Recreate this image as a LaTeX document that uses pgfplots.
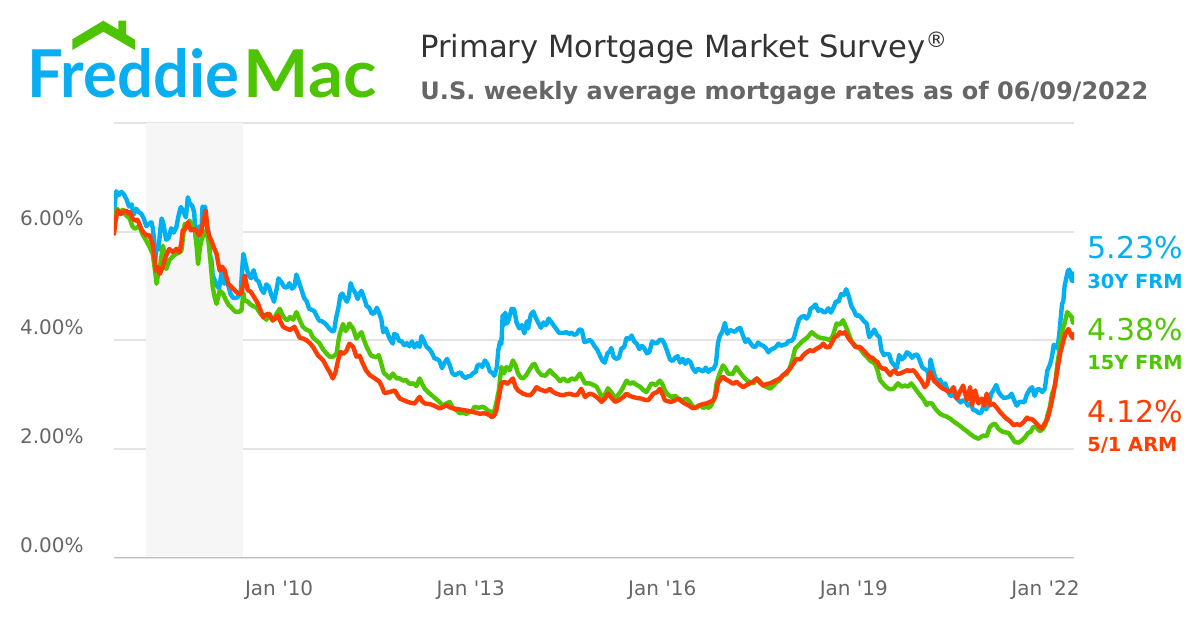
\documentclass[border=0pt]{standalone}
\usepackage{fontspec}
\usepackage{graphicx}
\setmainfont{DejaVu Sans}[Ligatures=TeXOff]
\newfontfamily\logofont{Lato}
\usepackage{pgfplots}
\pgfplotsset{compat=1.18}
\definecolor{fmblue}{RGB}{0,176,240}
\definecolor{fmgreen}{RGB}{78,198,0}
\definecolor{fmred}{RGB}{255,61,0}
\definecolor{logoblue}{RGB}{8,174,239}
\definecolor{logogreen}{RGB}{76,196,0}
\definecolor{gridgray}{RGB}{228,228,228}
\definecolor{axisgray}{RGB}{192,192,192}
\definecolor{axisblue}{RGB}{204,214,235}
\definecolor{bandgray}{RGB}{246,246,246}
\definecolor{txtgray}{RGB}{102,102,102}
\definecolor{titlegray}{RGB}{51,51,51}
\begin{document}
\begin{tikzpicture}
\path[use as bounding box] (0,0) rectangle (600pt,-315pt);
% x = years since 2000
\begin{axis}[
  at={(57pt,-279pt)}, anchor=south west,
  scale only axis, width=480pt, height=217.65pt,
  xmin=7.414, xmax=22.447, ymin=0, ymax=8,
  axis line style={draw=none},
  ytick={0,2,4,6,8}, yticklabels={0.00\%,2.00\%,4.00\%,6.00\%,{}},
  ymajorgrids, grid style={gridgray, line width=1pt},
  ytick style={draw=none}, xtick style={draw=none},
  xtick={10,13,16,19,22},
  xticklabels={Jan '10,Jan '13,Jan '16,Jan '19,Jan '22},
  tick label style={font=\fontsize{10}{12}\selectfont, text=txtgray},
  yticklabel style={anchor=east, inner sep=0pt, xshift=-15pt, yshift=6.45pt},
  xticklabel style={anchor=north, inner sep=0pt, yshift=-11pt},
  every axis plot/.append style={line width=2.2pt, line join=round, line cap=round, no markers},
]
\fill[bandgray] (axis cs:7.92,0) rectangle (axis cs:9.44,8);
\draw[axisgray, line width=1pt] (axis cs:7.414,0) -- (axis cs:22.447,0);
\draw[axisblue, line width=1pt] ([yshift=-1.3pt]axis cs:7.414,0) -- ([yshift=-1.3pt]axis cs:22.447,0);
\draw[axisblue, line width=0.5pt] ([yshift=-1.3pt]axis cs:10,0) -- ([yshift=-9.8pt]axis cs:10,0);
\draw[axisblue, line width=0.5pt] ([yshift=-1.3pt]axis cs:13,0) -- ([yshift=-9.8pt]axis cs:13,0);
\draw[axisblue, line width=0.5pt] ([yshift=-1.3pt]axis cs:16,0) -- ([yshift=-9.8pt]axis cs:16,0);
\draw[axisblue, line width=0.5pt] ([yshift=-1.3pt]axis cs:19,0) -- ([yshift=-9.8pt]axis cs:19,0);
\draw[axisblue, line width=0.5pt] ([yshift=-1.3pt]axis cs:22,0) -- ([yshift=-9.8pt]axis cs:22,0);
% 30Y FRM
\addplot[fmblue] coordinates {
(07.414,6.37)(07.45,6.74)(07.49,6.67)(07.53,6.73)(07.57,6.68)(07.61,6.59)(07.65,6.46)(07.69,6.50)(07.72,6.31)(07.76,6.42)(07.80,6.36)(07.84,6.33)(07.88,6.24)(07.92,6.10)(07.96,6.14)(08.00,6.17)
(08.02,6.07)(08.04,5.87)(08.06,5.48)(08.08,5.68)(08.11,5.67)(08.14,6.04)(08.16,6.24)(08.19,6.13)(08.23,5.85)(08.27,5.88)(08.31,6.06)(08.35,5.98)(08.39,6.08)(08.43,6.32)(08.46,6.45)(08.50,6.37)(08.54,6.26)(08.57,6.63)(08.60,6.52)(08.64,6.47)(08.67,6.35)(08.69,5.93)(08.71,5.78)(08.74,6.09)(08.78,5.94)(08.80,6.46)(08.82,6.36)(08.84,6.46)(08.86,6.14)(08.90,5.97)(08.92,5.53)(08.94,5.47)(08.96,5.19)(08.98,5.14)
(09.02,5.01)(09.06,4.96)(09.10,5.25)(09.14,5.04)(09.17,5.15)(09.21,4.98)(09.24,4.85)(09.28,4.78)(09.32,4.78)(09.36,4.80)(09.40,4.91)(09.42,5.29)(09.44,5.59)(09.48,5.38)(09.52,5.20)(09.56,5.14)(09.60,5.29)(09.64,5.12)(09.68,5.08)(09.72,4.94)(09.76,4.87)(09.80,5.03)(09.84,4.98)(09.88,4.83)(09.92,4.71)(09.96,4.94)(09.99,5.14)
(10.04,5.06)(10.08,4.98)(10.12,4.97)(10.16,5.05)(10.20,4.95)(10.24,4.99)(10.27,5.21)(10.31,5.07)(10.35,4.93)(10.39,4.78)(10.43,4.72)(10.47,4.58)(10.51,4.56)(10.55,4.54)(10.59,4.44)(10.63,4.36)(10.67,4.35)(10.71,4.32)(10.75,4.27)(10.79,4.21)(10.83,4.17)(10.86,4.17)(10.89,4.40)(10.93,4.61)(10.96,4.83)(10.99,4.86)
(11.03,4.77)(11.06,4.71)(11.09,4.80)(11.12,5.05)(11.15,4.95)(11.19,4.88)(11.23,4.76)(11.26,4.86)(11.29,4.91)(11.33,4.78)(11.37,4.63)(11.41,4.60)(11.45,4.49)(11.49,4.50)(11.53,4.60)(11.56,4.52)(11.60,4.39)(11.63,4.15)(11.67,4.22)(11.71,4.09)(11.74,4.01)(11.78,3.94)(11.80,4.12)(11.84,4.10)(11.88,3.99)(11.92,3.98)(11.96,3.91)
(12.00,3.95)(12.04,3.89)(12.08,3.98)(12.12,3.87)(12.16,3.95)(12.20,3.88)(12.23,4.08)(12.27,3.98)(12.31,3.88)(12.35,3.84)(12.39,3.78)(12.43,3.67)(12.47,3.66)(12.51,3.62)(12.55,3.49)(12.59,3.59)(12.63,3.66)(12.67,3.55)(12.71,3.40)(12.75,3.36)(12.80,3.39)(12.84,3.41)(12.88,3.34)(12.92,3.31)(12.96,3.34)
(13.00,3.35)(13.04,3.40)(13.08,3.42)(13.10,3.53)(13.14,3.56)(13.18,3.51)(13.22,3.63)(13.26,3.57)(13.30,3.43)(13.34,3.40)(13.37,3.35)(13.41,3.51)(13.43,3.81)(13.46,3.98)(13.48,3.93)(13.50,4.46)(13.53,4.29)(13.54,4.51)(13.57,4.31)(13.60,4.40)(13.64,4.58)(13.68,4.57)(13.72,4.32)(13.76,4.22)(13.80,4.28)(13.84,4.13)(13.88,4.35)(13.90,4.22)(13.94,4.47)(13.98,4.53)
(14.02,4.41)(14.06,4.32)(14.10,4.23)(14.14,4.33)(14.18,4.28)(14.22,4.40)(14.26,4.34)(14.30,4.27)(14.34,4.21)(14.38,4.14)(14.42,4.14)(14.46,4.14)(14.50,4.15)(14.54,4.12)(14.58,4.14)(14.62,4.10)(14.66,4.12)(14.70,4.20)(14.74,4.19)(14.78,3.97)(14.82,3.98)(14.86,4.01)(14.90,3.97)(14.94,3.89)(14.98,3.83)
(15.02,3.73)(15.06,3.63)(15.10,3.59)(15.14,3.76)(15.18,3.80)(15.20,3.86)(15.24,3.69)(15.28,3.66)(15.32,3.68)(15.36,3.85)(15.40,3.87)(15.44,4.04)(15.48,4.02)(15.52,4.09)(15.56,3.98)(15.60,3.94)(15.64,3.84)(15.68,3.90)(15.72,3.85)(15.76,3.76)(15.80,3.79)(15.84,3.98)(15.88,3.95)(15.92,3.95)(15.96,4.01)
(16.00,4.01)(16.04,3.92)(16.08,3.79)(16.12,3.65)(16.16,3.62)(16.20,3.68)(16.24,3.71)(16.28,3.59)(16.32,3.66)(16.36,3.57)(16.40,3.64)(16.44,3.60)(16.48,3.48)(16.52,3.42)(16.56,3.48)(16.60,3.45)(16.64,3.43)(16.68,3.50)(16.72,3.42)(16.76,3.47)(16.80,3.47)(16.84,3.57)(16.87,3.94)(16.90,4.08)(16.94,4.16)(16.98,4.32)
(17.02,4.12)(17.06,4.19)(17.10,4.17)(17.14,4.16)(17.18,4.21)(17.22,4.23)(17.26,4.10)(17.30,3.97)(17.34,4.02)(17.38,3.95)(17.42,3.89)(17.46,3.88)(17.50,3.96)(17.54,3.92)(17.58,3.90)(17.62,3.86)(17.66,3.78)(17.70,3.83)(17.74,3.85)(17.78,3.88)(17.82,3.94)(17.86,3.90)(17.90,3.92)(17.94,3.93)(17.98,3.99)
(18.02,3.99)(18.06,4.04)(18.10,4.22)(18.14,4.38)(18.18,4.43)(18.22,4.45)(18.26,4.40)(18.30,4.47)(18.32,4.58)(18.36,4.61)(18.40,4.66)(18.44,4.54)(18.48,4.57)(18.52,4.52)(18.56,4.52)(18.60,4.59)(18.64,4.51)(18.68,4.60)(18.72,4.72)(18.76,4.71)(18.80,4.85)(18.84,4.83)(18.88,4.94)(18.92,4.81)(18.96,4.63)
(19.00,4.55)(19.04,4.45)(19.08,4.46)(19.12,4.41)(19.16,4.35)(19.20,4.31)(19.24,4.06)(19.28,4.12)(19.32,4.20)(19.36,4.10)(19.40,4.06)(19.43,3.82)(19.47,3.73)(19.51,3.75)(19.55,3.75)(19.59,3.60)(19.63,3.55)(19.67,3.49)(19.71,3.73)(19.75,3.65)(19.79,3.69)(19.83,3.78)(19.87,3.75)(19.91,3.68)(19.95,3.73)(19.99,3.74)
(20.03,3.64)(20.07,3.51)(20.11,3.47)(20.15,3.45)(20.18,3.29)(20.20,3.65)(20.23,3.50)(20.27,3.33)(20.31,3.23)(20.35,3.28)(20.39,3.15)(20.43,3.21)(20.47,3.07)(20.51,2.98)(20.55,2.99)(20.59,2.96)(20.63,2.91)(20.67,2.86)(20.71,2.90)(20.75,2.87)(20.79,2.80)(20.83,2.84)(20.87,2.72)(20.91,2.71)(20.95,2.67)(20.99,2.66)
(21.03,2.79)(21.07,2.73)(21.11,2.81)(21.15,3.02)(21.19,3.09)(21.23,3.18)(21.27,3.04)(21.31,2.98)(21.35,2.94)(21.39,2.95)(21.43,2.96)(21.47,3.02)(21.51,2.90)(21.55,2.80)(21.59,2.87)(21.63,2.87)(21.67,2.86)(21.71,3.01)(21.75,3.09)(21.79,3.14)(21.83,2.98)(21.87,3.10)(21.91,3.10)(21.95,3.05)(21.99,3.11)
(22.03,3.45)(22.07,3.55)(22.10,3.69)(22.13,3.92)(22.16,3.89)(22.19,3.85)(22.22,4.16)(22.24,4.42)(22.26,4.67)(22.28,4.72)(22.30,5.00)(22.32,5.11)(22.35,5.27)(22.37,5.30)(22.39,5.25)(22.41,5.10)(22.43,5.09)(22.447,5.23)
};
% 15Y FRM
\addplot[fmgreen] coordinates {
(07.414,6.05)(07.46,6.42)(07.50,6.36)(07.55,6.40)(07.60,6.30)(07.66,6.24)(07.70,6.10)(07.74,6.05)(07.78,6.08)(07.81,6.11)(07.86,5.95)(07.92,5.83)(07.97,5.72)
(08.02,5.59)(08.06,5.25)(08.08,5.04)(08.11,5.25)(08.14,5.40)(08.18,5.74)(08.21,5.55)(08.23,5.31)(08.28,5.47)(08.34,5.55)(08.39,5.59)(08.44,5.62)(08.47,5.65)(08.50,5.95)(08.52,6.14)(08.56,6.10)(08.60,6.20)(08.64,6.10)(08.68,6.05)(08.71,5.70)(08.73,5.40)(08.76,5.70)(08.78,5.83)(08.82,5.95)(08.86,6.02)(08.89,5.85)(08.91,5.65)(08.94,5.25)(08.96,4.98)(08.99,4.80)
(09.02,4.67)(09.07,4.91)(09.12,4.86)(09.17,4.73)(09.21,4.65)(09.25,4.61)(09.29,4.55)(09.33,4.52)(09.38,4.53)(09.41,4.55)(09.44,4.87)(09.46,4.73)(09.50,4.72)(09.54,4.67)(09.59,4.63)(09.64,4.61)(09.70,4.50)(09.75,4.43)(09.80,4.38)(09.85,4.49)(09.90,4.36)(09.96,4.49)
(10.01,4.58)(10.05,4.47)(10.09,4.40)(10.13,4.37)(10.17,4.43)(10.22,4.38)(10.27,4.52)(10.32,4.38)(10.37,4.25)(10.42,4.20)(10.48,4.17)(10.53,4.05)(10.58,4.00)(10.63,3.95)(10.69,3.83)(10.74,3.76)(10.79,3.70)(10.85,3.70)(10.90,3.76)(10.93,4.00)(10.95,4.12)
(11.00,4.30)(11.04,4.17)(11.08,4.24)(11.10,4.31)(11.16,4.21)(11.21,4.03)(11.25,4.10)(11.29,4.15)(11.33,4.00)(11.37,3.88)(11.44,3.72)(11.52,3.69)(11.56,3.73)(11.60,3.57)(11.64,3.40)(11.68,3.36)(11.73,3.30)(11.78,3.39)(11.84,3.30)(11.89,3.30)(11.94,3.26)(11.99,3.27)
(12.04,3.20)(12.10,3.21)(12.15,3.16)(12.20,3.30)(12.24,3.20)(12.28,3.11)(12.34,3.04)(12.39,2.99)(12.45,2.93)(12.51,2.87)(12.56,2.80)(12.62,2.84)(12.67,2.87)(12.72,2.76)(12.78,2.71)(12.83,2.66)(12.88,2.67)(12.93,2.65)(12.98,2.68)
(13.02,2.70)(13.06,2.78)(13.12,2.76)(13.19,2.78)(13.23,2.75)(13.27,2.71)(13.33,2.68)(13.37,2.70)(13.40,2.85)(13.44,3.08)(13.48,3.51)(13.52,3.39)(13.56,3.51)(13.61,3.45)(13.66,3.63)(13.70,3.55)(13.74,3.39)(13.78,3.32)(13.82,3.30)(13.87,3.36)(13.93,3.48)(13.97,3.55)
(14.00,3.57)(14.05,3.44)(14.11,3.36)(14.17,3.35)(14.24,3.45)(14.29,3.38)(14.34,3.33)(14.40,3.25)(14.45,3.30)(14.52,3.24)(14.58,3.30)(14.64,3.28)(14.71,3.39)(14.75,3.30)(14.79,3.21)(14.86,3.21)(14.92,3.18)(14.97,3.15)
(15.05,2.97)(15.10,3.00)(15.15,3.12)(15.20,3.05)(15.26,2.93)(15.31,3.00)(15.36,3.08)(15.44,3.26)(15.49,3.20)(15.54,3.23)(15.60,3.18)(15.65,3.15)(15.70,3.09)(15.75,3.05)(15.83,3.21)(15.90,3.18)(15.96,3.26)
(16.00,3.20)(16.04,3.08)(16.09,3.00)(16.14,2.96)(16.20,2.98)(16.25,2.93)(16.31,2.90)(16.38,2.93)(16.43,2.87)(16.48,2.78)(16.54,2.76)(16.59,2.81)(16.64,2.76)(16.69,2.78)(16.73,2.76)(16.77,2.81)(16.82,2.95)(16.85,3.21)(16.90,3.40)(16.95,3.54)(16.99,3.48)
(17.03,3.39)(17.10,3.38)(17.16,3.51)(17.21,3.42)(17.27,3.33)(17.32,3.27)(17.37,3.23)(17.43,3.21)(17.48,3.30)(17.53,3.25)(17.58,3.17)(17.64,3.14)(17.69,3.11)(17.74,3.17)(17.79,3.23)(17.84,3.27)(17.89,3.36)(17.95,3.38)
(18.00,3.51)(18.04,3.65)(18.08,3.85)(18.14,3.92)(18.21,4.00)(18.27,4.05)(18.34,4.15)(18.39,4.10)(18.44,4.06)(18.50,4.04)(18.57,4.03)(18.62,4.00)(18.67,4.08)(18.73,4.31)(18.78,4.29)(18.83,4.37)(18.89,4.21)(18.94,4.05)(18.97,3.97)
(19.04,3.88)(19.10,3.84)(19.15,3.76)(19.20,3.70)(19.25,3.63)(19.33,3.57)(19.37,3.45)(19.41,3.27)(19.46,3.20)(19.51,3.14)(19.56,3.10)(19.62,3.11)(19.69,3.21)(19.75,3.15)(19.80,3.17)(19.85,3.15)(19.90,3.21)(19.98,3.08)
(20.06,2.96)(20.10,2.90)(20.14,2.81)(20.18,2.85)(20.22,2.84)(20.26,2.77)(20.30,2.71)(20.35,2.65)(20.40,2.62)(20.45,2.60)(20.51,2.56)(20.56,2.51)(20.61,2.47)(20.66,2.43)(20.71,2.38)(20.77,2.33)(20.82,2.28)(20.88,2.23)(20.95,2.19)
(21.02,2.25)(21.08,2.24)(21.13,2.41)(21.17,2.45)(21.21,2.47)(21.26,2.38)(21.31,2.33)(21.37,2.31)(21.42,2.30)(21.47,2.22)(21.52,2.13)(21.58,2.12)(21.63,2.16)(21.68,2.22)(21.73,2.30)(21.77,2.32)(21.81,2.41)(21.86,2.40)(21.91,2.33)(21.96,2.37)
(22.00,2.45)(22.03,2.62)(22.07,2.78)(22.10,3.00)(22.15,3.17)(22.19,3.60)(22.22,3.82)(22.26,4.17)(22.30,4.31)(22.34,4.52)(22.37,4.48)(22.41,4.43)(22.43,4.32)(22.447,4.38)
};
% 5/1 ARM
\addplot[fmred] coordinates {
(07.414,5.96)(07.44,6.20)(07.47,6.39)(07.52,6.32)(07.56,6.36)(07.60,6.39)(07.64,6.33)(07.66,6.36)(07.70,6.25)(07.74,6.20)(07.78,6.22)(07.81,6.14)(07.84,6.05)(07.87,5.99)(07.92,5.93)(07.97,5.93)
(08.02,5.77)(08.05,5.50)(08.07,5.28)(08.10,5.35)(08.13,5.22)(08.16,5.30)(08.18,5.37)(08.23,5.56)(08.28,5.68)(08.34,5.62)(08.39,5.68)(08.44,5.62)(08.47,5.80)(08.49,6.02)(08.53,6.05)(08.57,6.17)(08.62,6.02)(08.66,6.05)(08.70,6.02)(08.75,5.93)(08.78,6.00)(08.81,6.17)(08.85,6.39)(08.88,6.02)(08.91,5.90)(08.94,5.83)(08.98,5.70)
(09.02,5.59)(09.05,5.40)(09.07,5.28)(09.11,5.35)(09.15,5.28)(09.20,5.04)(09.24,5.00)(09.28,4.95)(09.32,4.90)(09.36,4.86)(09.41,4.86)(09.46,5.19)(09.51,4.92)(09.55,4.90)(09.59,4.83)(09.63,4.75)(09.67,4.67)(09.71,4.55)(09.75,4.43)(09.79,4.47)(09.83,4.49)(09.87,4.42)(09.90,4.37)(09.94,4.40)(09.98,4.46)
(10.02,4.35)(10.06,4.25)(10.11,4.22)(10.17,4.19)(10.24,4.25)(10.28,4.15)(10.32,4.05)(10.38,4.03)(10.43,4.00)(10.48,3.95)(10.53,3.88)(10.57,3.80)(10.61,3.72)(10.65,3.68)(10.69,3.63)(10.74,3.52)(10.79,3.42)(10.84,3.30)(10.88,3.40)(10.92,3.62)(10.96,3.79)
(11.00,3.75)(11.05,3.80)(11.10,3.94)(11.16,3.88)(11.21,3.70)(11.26,3.72)(11.30,3.60)(11.36,3.45)(11.42,3.36)(11.50,3.30)(11.57,3.24)(11.61,3.15)(11.65,3.03)(11.73,3.05)(11.81,3.08)(11.85,3.00)(11.89,2.93)(11.95,2.90)
(12.01,2.87)(12.07,2.85)(12.12,2.84)(12.20,2.96)(12.24,2.88)(12.28,2.84)(12.35,2.83)(12.41,2.81)(12.46,2.78)(12.51,2.75)(12.56,2.77)(12.62,2.81)(12.67,2.77)(12.72,2.75)(12.78,2.74)(12.83,2.73)(12.88,2.72)(12.93,2.71)(12.98,2.70)
(13.04,2.68)(13.09,2.67)(13.14,2.65)(13.20,2.66)(13.25,2.65)(13.30,2.62)(13.33,2.59)(13.37,2.62)(13.40,2.71)(13.44,2.95)(13.48,3.21)(13.53,3.24)(13.57,3.20)(13.61,3.24)(13.66,3.30)(13.70,3.15)(13.74,3.08)(13.78,3.05)(13.82,3.02)(13.87,3.00)(13.93,2.99)(13.98,3.05)
(14.03,3.14)(14.08,3.10)(14.13,3.08)(14.18,3.06)(14.24,3.11)(14.29,3.05)(14.34,3.02)(14.40,3.00)(14.45,2.99)(14.50,3.01)(14.55,3.02)(14.60,3.00)(14.66,2.99)(14.70,3.05)(14.73,3.11)(14.79,2.96)(14.86,3.02)(14.92,3.00)(14.97,2.96)
(15.05,2.87)(15.10,2.93)(15.15,3.02)(15.20,2.95)(15.26,2.87)(15.32,2.90)(15.39,2.96)(15.44,3.02)(15.49,2.98)(15.54,2.96)(15.60,2.94)(15.67,2.93)(15.72,2.91)(15.78,2.90)(15.86,3.02)(15.92,3.05)(15.96,3.11)
(16.00,3.02)(16.04,2.90)(16.09,2.88)(16.14,2.87)(16.20,2.90)(16.25,2.93)(16.30,2.88)(16.35,2.84)(16.42,2.80)(16.48,2.75)(16.54,2.78)(16.59,2.81)(16.64,2.83)(16.69,2.84)(16.75,2.87)(16.80,2.90)(16.84,3.00)(16.87,3.21)(16.91,3.28)(16.95,3.33)
(17.00,3.28)(17.06,3.24)(17.11,3.20)(17.16,3.24)(17.22,3.18)(17.27,3.14)(17.32,3.18)(17.37,3.21)(17.43,3.25)(17.48,3.30)(17.53,3.22)(17.58,3.17)(17.64,3.20)(17.69,3.21)(17.74,3.24)(17.79,3.27)(17.84,3.30)(17.89,3.36)(17.95,3.42)
(18.00,3.48)(18.05,3.57)(18.10,3.66)(18.16,3.65)(18.21,3.73)(18.26,3.78)(18.31,3.82)(18.36,3.80)(18.42,3.85)(18.47,3.88)(18.52,3.94)(18.57,3.87)(18.62,3.88)(18.66,3.97)(18.70,4.06)(18.74,4.08)(18.78,4.15)(18.82,4.12)(18.86,4.15)(18.90,4.07)(18.94,4.00)(18.98,3.95)
(19.02,3.88)(19.09,3.88)(19.13,3.84)(19.17,3.79)(19.21,3.74)(19.25,3.69)(19.29,3.68)(19.33,3.63)(19.37,3.60)(19.41,3.51)(19.45,3.48)(19.49,3.48)(19.53,3.42)(19.57,3.36)(19.60,3.42)(19.64,3.45)(19.68,3.38)(19.72,3.39)(19.78,3.42)(19.83,3.45)(19.88,3.44)(19.93,3.45)(19.97,3.40)
(20.01,3.33)(20.06,3.25)(20.11,3.14)(20.15,3.20)(20.19,3.42)(20.22,3.34)(20.26,3.25)(20.30,3.21)(20.35,3.15)(20.40,3.11)(20.45,3.08)(20.51,3.05)(20.56,3.14)(20.61,2.93)(20.66,3.05)(20.71,3.17)(20.77,2.90)(20.82,3.14)(20.85,2.81)(20.90,3.08)(20.95,2.84)
(21.00,2.93)(21.04,2.80)(21.08,3.02)(21.13,2.81)(21.18,2.84)(21.24,2.76)(21.29,2.68)(21.34,2.62)(21.39,2.56)(21.44,2.52)(21.50,2.44)(21.55,2.46)(21.60,2.44)(21.66,2.50)(21.71,2.58)(21.75,2.55)(21.78,2.56)(21.82,2.52)(21.86,2.47)(21.90,2.42)(21.94,2.38)
(22.03,2.55)(22.07,2.72)(22.12,3.00)(22.16,3.27)(22.23,3.76)(22.31,4.12)(22.36,4.21)(22.40,4.09)(22.43,4.04)(22.447,4.12)
};
\end{axis}
\begin{scope}[x=0.5pt,y=-0.5pt]
% logo
\fill[logogreen] (72.3,50) -- (72.3,39.3) -- (103.3,20.7) -- (118.3,29.7) -- (118.3,20.7) -- (126,20.7) -- (126,34.3) -- (135,39.7) -- (135,50) -- (103.3,31.7) -- cycle;
\node[anchor=base west, inner sep=0pt, text=logoblue] at (27,98) {\resizebox{106pt}{\height}{\logofont\bfseries\fontsize{33}{33}\selectfont Freddie}};
\node[anchor=base west, inner sep=0pt, text=logogreen] at (243.5,98) {\resizebox{66.5pt}{\height}{\logofont\bfseries\fontsize{33}{33}\selectfont Mac}};
% titles
\node[anchor=base west, inner sep=0pt, text=titlegray, font=\fontsize{15.3}{18}\selectfont] at (420,58) {Primary Mortgage Market Survey\textsuperscript{®}};
\node[anchor=base west, inner sep=0pt, text=txtgray, font=\bfseries\fontsize{12}{14}\selectfont] at (420,100) {U.S. weekly average mortgage rates as of 06/09/2022};
% right labels
\node[anchor=base west, inner sep=0pt, text=fmblue, font=\fontsize{15}{18}\selectfont] at (1087,259) {5.23\%};
\node[anchor=base west, inner sep=0pt, text=fmblue, font=\bfseries\fontsize{9.7}{12}\selectfont] at (1087,289) {30Y FRM};
\node[anchor=base west, inner sep=0pt, text=fmgreen, font=\fontsize{15}{18}\selectfont] at (1087,341) {4.38\%};
\node[anchor=base west, inner sep=0pt, text=fmgreen, font=\bfseries\fontsize{9.7}{12}\selectfont] at (1087,370) {15Y FRM};
\node[anchor=base west, inner sep=0pt, text=fmred, font=\fontsize{15}{18}\selectfont] at (1087,423) {4.12\%};
\node[anchor=base west, inner sep=0pt, text=fmred, font=\bfseries\fontsize{9.7}{12}\selectfont] at (1087,452) {5/1 ARM};
\end{scope}
\end{tikzpicture}
\end{document}
